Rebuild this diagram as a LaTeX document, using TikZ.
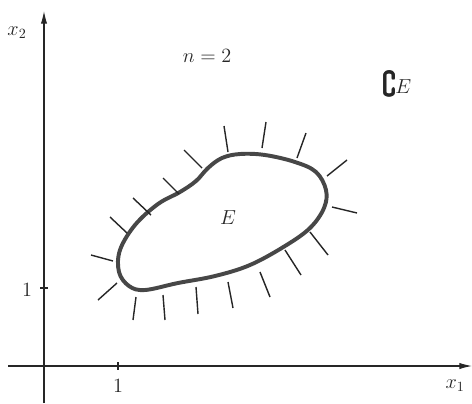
\documentclass[tikz,border=0pt]{standalone}
\usepackage{amsmath,amssymb}
\usepackage{tikz}
\usetikzlibrary{arrows.meta,positioning,calc}

\begin{document}
\begin{tikzpicture}[
  x=0.025cm, y=-0.025cm,
  axis/.style={-{Latex[length=9pt,width=4.5pt]}, line width=0.8pt, draw=black!85},
  axtick/.style={line width=0.8pt, draw=black!85},
  boundary/.style={line width=2.8pt, draw=black!72, line join=round},
  hatch/.style={line width=1pt, draw=black!85},
  lab/.style={font=\fontsize{14}{16}\selectfont, text=black!85, inner sep=1pt}
]
\useasboundingbox (0,0) rectangle (472,403);
% axes
\coordinate (xstart) at (8,366);
\coordinate (xend) at (472,366);
\coordinate (ystart) at (44,403);
\coordinate (yend) at (44,11);
\draw[axis] (xstart) -- (xend);
\draw[axis] (ystart) -- (yend);
\draw[axtick] (118,362) -- (118,370);
\draw[axtick] (40,288) -- (48,288);
\node[lab] (x1lab) at (455,386) {$x_1$};
\node[lab] (x2lab) at (17,33) {$x_2$};
\node[lab] (onex) at (118,386) {$1$};
\node[lab] (oney) at (27,290) {$1$};
\node[lab] (nlab) at (207,56) {$n=2$};
\node[lab] (complab) at (397,84) {\scalebox{1.4}[1.5]{$\pmb{\complement}$}\kern-1pt\raisebox{2pt}{$E$}};
% the set E
\draw[boundary] plot[smooth cycle, tension=0.6] coordinates {
  (145,290) (178,283) (215,276) (250,265) (285,246) (310,228)
  (324,208) (326,190) (316,172) (295,162) (265,155) (240,154)
  (222,158) (208,168) (196,181) (180,192) (158,204) (135,225)
  (120,250) (119,272) (129,286)};
\node[lab] (Elab) at (228,218) {$E$};
% hatching of the complement
\foreach \ax/\ay/\bx/\by in {
  228/152/224/126, 262/148/266/122, 297/158/306/133,
  327/176/347/160, 332/207/357/213, 310/232/328/255,
  285/250/301/275, 260/272/270/297, 228/282/233/308,
  196/287/198/314, 163/295/165/320, 136/297/133/320,
  117/283/98/300, 113/261/91/255, 127/233/110/217,
  151/215/133/198, 179/194/163/178, 202/168/184/150}
  \draw[hatch] (\ax,\ay) -- (\bx,\by);
\end{tikzpicture}
\end{document}
